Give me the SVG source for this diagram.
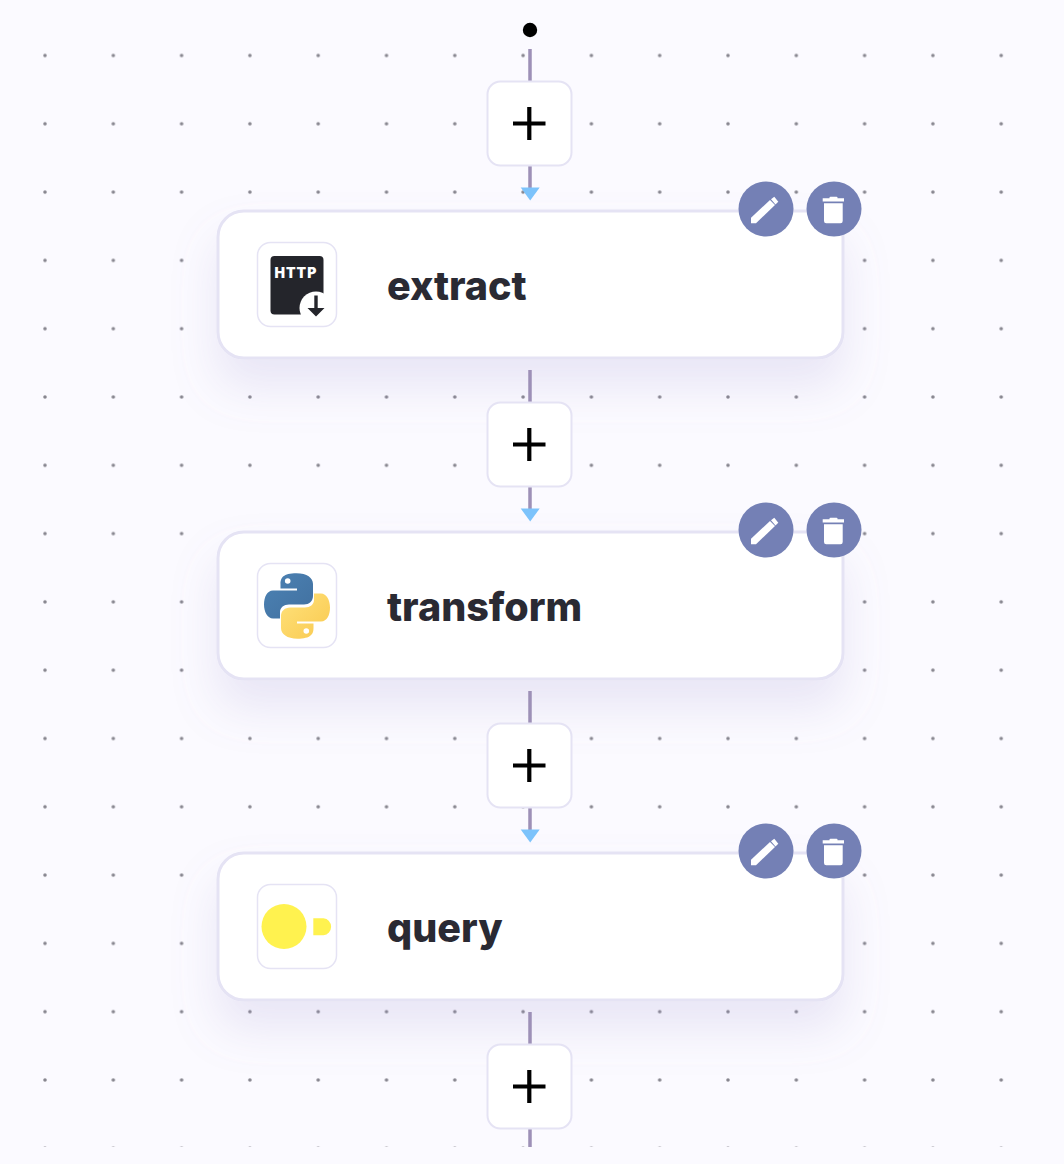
<svg xmlns="http://www.w3.org/2000/svg" width="1064" height="1164" viewBox="0 0 1064 1164">
<style>
.card{fill:#fff;stroke:#e5e3f4;stroke-width:3}
.iconbox{fill:#fff;stroke:#e5e3f4;stroke-width:1.5}
.plusbox{fill:#fff;stroke:#e5e3f4;stroke-width:2}
.plus{stroke:#000;stroke-width:4.2;fill:none}
.edge{stroke:#9d90b7;stroke-width:3.5;fill:none}
.tip{fill:#7cc3fb}
.btn{fill:#7480b5}
.glyph{fill:#fff}
.label{font-family:Inter,"Liberation Sans",sans-serif;font-weight:800;font-size:39.5px;fill:#2a2a33}
</style>
<defs>
<pattern id="dots" patternUnits="userSpaceOnUse" x="45" y="55.500" width="68.300" height="68.300">
<circle cx="0" cy="0" r="1.800" fill="#87868f"/>
<circle cx="68.300" cy="0" r="1.800" fill="#87868f"/>
<circle cx="0" cy="68.300" r="1.800" fill="#87868f"/>
<circle cx="68.300" cy="68.300" r="1.800" fill="#87868f"/>
</pattern>
<filter id="shadow" x="-20%" y="-40%" width="140%" height="220%">
<feDropShadow dx="0" dy="28" stdDeviation="22" flood-color="#8f86c8" flood-opacity="0.17"/>
</filter>
<linearGradient id="pyb" x1="0" y1="0" x2="1" y2="1"><stop offset="0" stop-color="#4c82b4"/><stop offset="1" stop-color="#41709f"/></linearGradient>
<linearGradient id="pyy" x1="0" y1="0" x2="1" y2="1"><stop offset="0" stop-color="#f9c94f"/><stop offset="1" stop-color="#ffe27c"/></linearGradient>
<path id="snake" d="M296.500 573.300C283 573.300 280.500 578 280.500 584V588.500H297V590.500H273C267 590.500 264 597 264 604.500C264 612 267.500 618.500 273 618.500H280V612C280 607.500 284 604.500 289 604.500H304C309 604.500 313 601 313 596V584C313 578 307 573.300 296.500 573.300Z"/>
<g id="actions">
<circle class="btn" cx="766" cy="209" r="27.500"/>
<path class="glyph" d="M751 217.700L770 200L775 205L756 223.300H751Z"/>
<path class="glyph" d="M771 199.200L774.300 196.700L778.300 201.700L775.500 204.500Z"/>
<circle class="btn" cx="834" cy="209" r="27.500"/>
<path class="glyph" d="M822.700 198.300H829.500V197.500Q829.500 196.700 830.500 196.700H836.500Q837.500 196.700 837.500 197.500V198.300H844V201.500H822.700ZM824 203.300H842.700V221Q842.700 223.300 840.500 223.300H826.300Q824 223.300 824 221Z"/>
</g>
<g id="plusmark">
<rect class="plusbox" x="487.500" y="81.500" width="84" height="84" rx="13"/>
<path class="plus" d="M513 123.500H545.500M529.300 107V140"/>
</g>
</defs>

<rect width="1064" height="1164" fill="#fbfaff"/>
<rect x="0" y="0" width="1064" height="1147" fill="url(#dots)"/>

<g id="start"><circle cx="530" cy="30" r="7.200" fill="#000"/></g>

<g id="node-extract">
<rect class="card" filter="url(#shadow)" x="218" y="211" width="625" height="147" rx="26"/>
<rect class="iconbox" x="257.500" y="242.500" width="79" height="84" rx="13"/>
<rect x="270.500" y="256" width="53" height="58.500" rx="4" fill="#24252b"/>
<circle cx="316" cy="308" r="16.500" fill="#fff"/>
<path d="M314.300 295.500H317.700V308H324.500L316 316.500L307.500 308H314.300Z" fill="#24252b"/>
<text x="274.500" y="278" font-family="Inter,'Liberation Sans',sans-serif" font-weight="900" font-size="14" letter-spacing="1" fill="#fff">HTTP</text>
<text class="label" x="387" y="300">extract</text>
<use href="#actions"/>
</g>

<g id="node-transform">
<rect class="card" filter="url(#shadow)" x="218" y="532" width="625" height="147" rx="26"/>
<rect class="iconbox" x="257.500" y="563.500" width="79" height="84" rx="13"/>
<use href="#snake" fill="url(#pyb)"/>
<circle cx="287.700" cy="581" r="2.800" fill="#fff"/>
<g transform="rotate(180 297 606)"><use href="#snake" fill="url(#pyy)"/>
<circle cx="287.700" cy="581" r="2.800" fill="#fff"/></g>
<text class="label" x="387" y="621">transform</text>
<g transform="translate(0 321)"><use href="#actions"/></g>
</g>

<g id="node-query">
<rect class="card" filter="url(#shadow)" x="218" y="853" width="625" height="147" rx="26"/>
<rect class="iconbox" x="257.500" y="884.500" width="79" height="84" rx="13"/>
<circle cx="284" cy="926.500" r="22.500" fill="#fff24f"/>
<path d="M313.300 918.300H323.500A8.500 8.500 0 0 1 323.500 935.200H313.300Z" fill="#fff24f"/>
<text class="label" x="387" y="942">query</text>
<g transform="translate(0 642)"><use href="#actions"/></g>
</g>

<g id="connectors">
<path class="edge" d="M530 49V81M530 165V190"/>
<path class="tip" d="M520.700 187.500H539.700L530.200 200.500Z"/>
<path class="edge" d="M530 370V402M530 486V511"/>
<path class="tip" d="M520.700 508.500H539.700L530.200 521.500Z"/>
<path class="edge" d="M530 691V723M530 807V832"/>
<path class="tip" d="M520.700 829.500H539.700L530.200 842.500Z"/>
<path class="edge" d="M530 1012V1044M530 1128V1147"/>
</g>

<g id="add-1"><use href="#plusmark"/></g>
<g id="add-2" transform="translate(0 321)"><use href="#plusmark"/></g>
<g id="add-3" transform="translate(0 642)"><use href="#plusmark"/></g>
<g id="add-4" transform="translate(0 963)"><use href="#plusmark"/></g>
</svg>
